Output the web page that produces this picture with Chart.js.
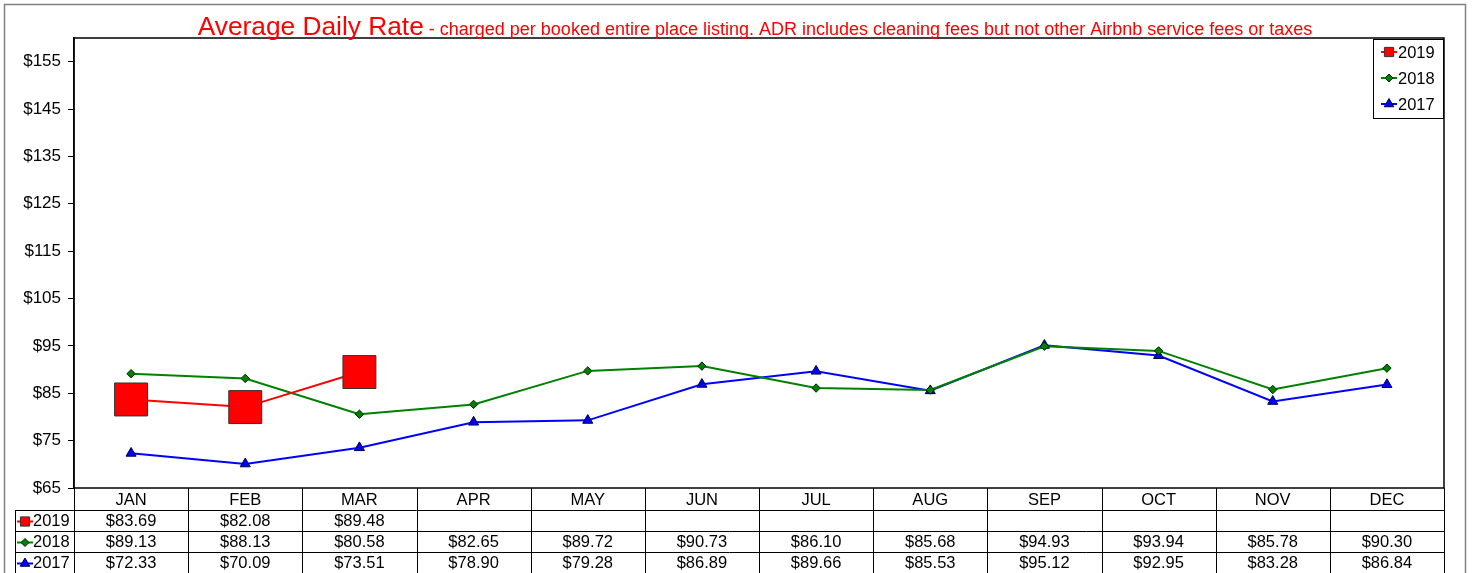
<!DOCTYPE html>
<html>
<head>
<meta charset="utf-8">
<script src="https://cdn.jsdelivr.net/npm/chart.js@4"></script>
<style>
  body { margin: 0; background: #fff; }
  canvas { display: block; }
</style>
</head>
<body>
<canvas id="adr" width="1475" height="573"></canvas>
<script>
const months = ['JAN', 'FEB', 'MAR', 'APR', 'MAY', 'JUN', 'JUL', 'AUG', 'SEP', 'OCT', 'NOV', 'DEC'];
const adr2019 = [83.69, 82.08, 89.48, null, null, null, null, null, null, null, null, null];
const adr2018 = [89.13, 88.13, 80.58, 82.65, 89.72, 90.73, 86.10, 85.68, 94.93, 93.94, 85.78, 90.30];
const adr2017 = [72.33, 70.09, 73.51, 78.90, 79.28, 86.89, 89.66, 85.53, 95.12, 92.95, 83.28, 86.84];
const yTicks = [65, 75, 85, 95, 105, 115, 125, 135, 145, 155];

const FONT = '"Liberation Sans", Arial, sans-serif';

const series = [
    { label: '2019', data: adr2019, color: '#ff0000', marker: 'rect', fill: '#ff0000', edge: '#333333', radius: 23.3, icon: 6.5 },
    { label: '2018', data: adr2018, color: '#008000', marker: 'rectRot', fill: '#008000', edge: '#002200', radius: 4.2, icon: 4 },
    { label: '2017', data: adr2017, color: '#0000ff', marker: 'triangle', fill: '#0000ff', edge: '#000040', radius: 5.8, icon: 5.5 },
];

function drawIcon(ctx, s, x, y) {
    ctx.save();
    ctx.strokeStyle = s.color;
    ctx.lineWidth = 2;
    ctx.beginPath();
    ctx.moveTo(x - 8, y);
    ctx.lineTo(x + 8, y);
    ctx.stroke();
    ctx.fillStyle = s.fill;
    ctx.strokeStyle = s.edge;
    ctx.lineWidth = 1;
    Chart.helpers.drawPoint(ctx, { pointStyle: s.marker, radius: s.icon, rotation: 0, borderWidth: 1 }, x, y);
    ctx.restore();
}

const extras = {
    id: 'extras',
    beforeDraw(chart) {
        const ctx = chart.ctx;
        ctx.save();
        ctx.fillStyle = '#fff';
        ctx.fillRect(0, 0, chart.width, chart.height);
        ctx.restore();
    },
    afterDraw(chart) {
        const ctx = chart.ctx;
        const a = chart.chartArea;
        const x = chart.scales.x;
        ctx.save();

        // outer frame
        ctx.strokeStyle = '#808080';
        ctx.lineWidth = 1.5;
        ctx.strokeRect(4.5, 4.5, 1461, 600);

        // plot frame
        ctx.strokeStyle = '#000';
        ctx.lineWidth = 1.5;
        ctx.strokeRect(a.left, a.top, a.right - a.left, a.bottom - a.top);

        // title
        const big = '26.3px ' + FONT;
        const small = '18px ' + FONT;
        const t1 = 'Average Daily Rate';
        const t2 = ' - charged per booked entire place listing. ADR includes cleaning fees but not other Airbnb service fees or taxes';
        ctx.font = big;
        const w1 = ctx.measureText(t1).width;
        ctx.font = small;
        const w2 = ctx.measureText(t2).width;
        let tx = 755 - (w1 + w2) / 2;
        ctx.fillStyle = '#ff0000';
        ctx.textBaseline = 'alphabetic';
        ctx.textAlign = 'left';
        ctx.font = big;
        ctx.fillText(t1, tx, 35);
        ctx.font = small;
        ctx.fillText(t2, tx + w1, 35);

        // legend box
        const lx = 1373, ly = 39, lw = 70, lh = 79;
        ctx.fillStyle = '#fff';
        ctx.fillRect(lx, ly, lw, lh);
        ctx.strokeStyle = '#000';
        ctx.lineWidth = 1;
        ctx.strokeRect(lx + 0.5, ly + 0.5, lw, lh);
        ctx.font = '16.5px ' + FONT;
        ctx.textBaseline = 'middle';
        series.forEach((s, i) => {
            const yy = 52 + i * 26;
            drawIcon(ctx, s, 1389, yy);
            ctx.fillStyle = '#000';
            ctx.fillText(s.label, 1398, yy + 1);
        });

        // data table
        const colW = (a.right - a.left) / months.length;
        const rows = [488, 510, 531, 552, 573];
        ctx.strokeStyle = '#000';
        ctx.lineWidth = 1;
        ctx.font = '16.5px ' + FONT;
        ctx.textAlign = 'center';
        ctx.beginPath();
        ctx.moveTo(a.left, rows[1] + 0.5);
        ctx.lineTo(a.right, rows[1] + 0.5);
        for (let r = 2; r < rows.length; r++) {
            ctx.moveTo(15, rows[r] + 0.5);
            ctx.lineTo(a.right, rows[r] + 0.5);
        }
        ctx.moveTo(15, rows[1] + 0.5);
        ctx.lineTo(a.left, rows[1] + 0.5);
        ctx.moveTo(15.5, rows[1]);
        ctx.lineTo(15.5, 573);
        for (let i = 0; i <= months.length; i++) {
            const cx = Math.round(a.left + i * colW) + 0.5;
            ctx.moveTo(cx, rows[0]);
            ctx.lineTo(cx, 573);
        }
        ctx.stroke();

        ctx.fillStyle = '#000';
        months.forEach((m, i) => {
            ctx.fillText(m, x.getPixelForValue(i), (rows[0] + rows[1]) / 2 + 1);
        });
        series.forEach((s, r) => {
            const yy = (rows[r + 1] + rows[r + 2]) / 2 + 1;
            drawIcon(ctx, s, 25, yy);
            ctx.fillStyle = '#000';
            ctx.textAlign = 'left';
            ctx.fillText(s.label, 33, yy);
            ctx.textAlign = 'center';
            s.data.forEach((v, i) => {
                if (v === null) return;
                ctx.fillText('$' + v.toFixed(2), x.getPixelForValue(i), yy);
            });
        });
        ctx.restore();
    }
};

new Chart(document.getElementById('adr'), {
    type: 'line',
    data: {
        labels: months,
        datasets: series.map(s => ({
            label: s.label,
            data: s.data,
            borderColor: s.color,
            borderWidth: 2,
            backgroundColor: s.fill,
            pointStyle: s.marker,
            pointRadius: s.radius,
            pointHoverRadius: s.radius,
            pointBackgroundColor: s.fill,
            pointBorderColor: s.edge,
            pointBorderWidth: 1,
            tension: 0,
            spanGaps: false,
        })),
    },
    options: {
        responsive: false,
        animation: false,
        events: [],
        layout: { padding: { left: 4, right: 31, top: 38, bottom: 85 } },
        plugins: {
            legend: { display: false },
            title: { display: false },
            tooltip: { enabled: false },
        },
        scales: {
            x: {
                type: 'category',
                offset: true,
                display: false,
            },
            y: {
                min: 65,
                max: 160,
                afterBuildTicks: (scale) => { scale.ticks = yTicks.map(v => ({ value: v })); },
                afterFit: (scale) => { scale.width = 70; },
                border: { display: true, color: '#000', width: 1.5 },
                grid: { drawOnChartArea: false, drawTicks: true, tickLength: 6, color: '#000', lineWidth: 1 },
                ticks: {
                    color: '#000',
                    padding: 7,
                    font: { family: FONT, size: 17 },
                    callback: (v) => '$' + v,
                },
            },
        },
    },
    plugins: [extras],
});
</script>
</body>
</html>
